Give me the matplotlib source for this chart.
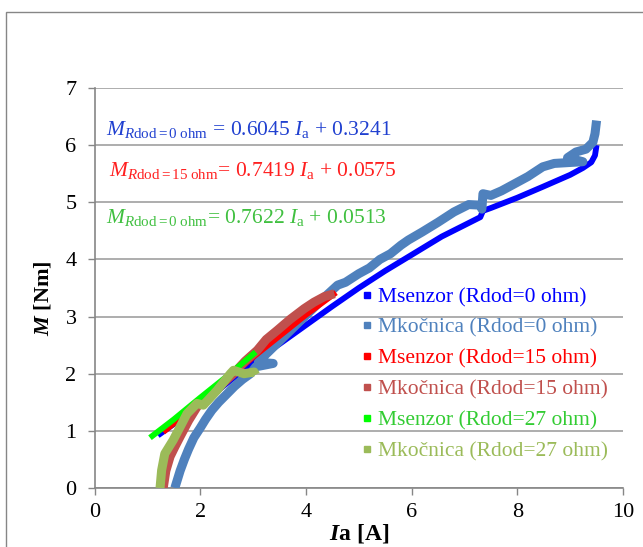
import matplotlib
matplotlib.use("Agg")
import matplotlib.pyplot as plt
from matplotlib.lines import Line2D
from matplotlib.patches import Rectangle

plt.rcParams['font.family'] = ['Liberation Serif', 'DejaVu Serif']
plt.rcParams['mathtext.fontset'] = 'custom'
plt.rcParams['mathtext.rm'] = 'Liberation Serif'
plt.rcParams['mathtext.it'] = 'Liberation Serif:italic'
plt.rcParams['mathtext.bf'] = 'Liberation Serif:bold'
plt.rcParams['mathtext.cal'] = 'Liberation Serif:italic:bold'

# ---- data ----
ms0_I = [1.2, 1.5, 2.0, 2.5, 3.0, 3.5, 4.0, 4.5, 5.0, 5.5, 6.0, 6.57, 7.0, 7.3, 7.35, 7.5, 8.0, 8.48, 9.0, 9.24, 9.4, 9.47, 9.5]
ms0_M = [0.92, 1.12, 1.45, 1.83, 2.2, 2.52, 2.85, 3.18, 3.5, 3.8, 4.08, 4.4, 4.6, 4.74, 4.85, 4.9, 5.08, 5.27, 5.48, 5.6, 5.7, 5.82, 6.0]

mk0_I = [1.52, 1.57, 1.62, 1.7, 1.78, 1.88, 2.0, 2.1, 2.22, 2.35, 2.5, 2.65, 2.8, 2.95, 3.05, 3.38, 3.1,
         3.2, 3.4, 3.6, 3.8, 4.0, 4.2, 4.4, 4.6, 4.75, 5.0, 5.2, 5.4, 5.6, 5.8, 5.94, 6.2, 6.5, 6.8, 7.08,
         7.3, 7.33, 7.35, 7.5, 7.7, 8.0, 8.2, 8.48, 8.7, 9.24, 8.95, 9.11, 9.3, 9.43, 9.47, 9.5]
mk0_M = [0.0, 0.15, 0.3, 0.5, 0.68, 0.88, 1.05, 1.2, 1.36, 1.5, 1.64, 1.78, 1.9, 2.0, 2.12, 2.18, 2.2,
         2.3, 2.48, 2.66, 2.84, 3.02, 3.2, 3.38, 3.55, 3.6, 3.75, 3.85, 4.0, 4.1, 4.25, 4.34, 4.48, 4.65, 4.83, 4.96,
         4.95, 4.88, 5.15, 5.12, 5.2, 5.35, 5.45, 5.62, 5.68, 5.71, 5.78, 5.88, 5.93, 6.05, 6.2, 6.43]

ms15_I = [1.3, 2.0, 2.5, 3.0, 3.5, 4.0, 4.57]
ms15_M = [0.98, 1.5, 1.9, 2.29, 2.66, 3.03, 3.42]

mk15_I = [1.3, 1.35, 1.43, 1.52, 1.62, 1.78, 1.94, 2.1, 2.25, 2.45, 2.63, 2.85, 3.08, 3.25, 3.46, 3.7, 3.97, 4.15, 4.35, 4.54]
mk15_M = [0.0, 0.3, 0.55, 0.72, 0.9, 1.18, 1.42, 1.56, 1.66, 1.85, 2.0, 2.22, 2.41, 2.6, 2.76, 2.95, 3.14, 3.25, 3.35, 3.4]

ms27_I = [1.05, 1.5, 2.0, 2.5, 3.05]
ms27_M = [0.88, 1.2, 1.58, 1.95, 2.38]

mk27_I = [1.24, 1.27, 1.33, 1.49, 1.62, 1.75, 1.94, 2.06, 2.32, 2.57, 2.63, 2.83, 3.02, 3.05]
mk27_M = [0.0, 0.31, 0.6, 0.84, 1.07, 1.3, 1.48, 1.45, 1.71, 2.0, 2.06, 2.0, 2.03, 1.98]

labels = ["Msenzor (Rdod=0 ohm)", "Mkočnica (Rdod=0 ohm)", "Msenzor (Rdod=15 ohm)",
          "Mkočnica (Rdod=15 ohm)", "Msenzor (Rdod=27 ohm)", "Mkočnica (Rdod=27 ohm)"]
colors = ["#0000FF", "#4F81BD", "#FF0000", "#C0504D", "#00FF00", "#9BBB59"]
text_colors = ["#0000FF", "#4F81BD", "#FF0000", "#C0504D", "#33CC33", "#9BBB59"]

eq_texts = [r"$M_{R\mathrm{dod=0\ ohm}}$ = 0.6045 $I_{\mathrm{a}}$ + 0.3241",
            r"$M_{R\mathrm{dod=15\ ohm}}$= 0.7419 $I_{\mathrm{a}}$ + 0.0575",
            r"$M_{R\mathrm{dod=0\ ohm}}$= 0.7622 $I_{\mathrm{a}}$ + 0.0513"]
eq_colors = ["#2040D0", "#FF2020", "#40C040"]
eq_pos = [(0.22, 6.28), (0.27, 5.56), (0.22, 4.74)]

xticks = [0, 2, 4, 6, 8, 10]
yticks = [0, 1, 2, 3, 4, 5, 6, 7]

# ---- figure ----
fig = plt.figure(figsize=(6.43, 5.47), dpi=100)
fig.patches.append(Rectangle((6/643, -0.1), 1.2, 1.1 - 12/547, transform=fig.transFigure,
                             fill=False, edgecolor="#868686", linewidth=1.0))
ax = fig.add_axes([94.5/643, 1 - 488/547, (623 - 94.5)/643, (488 - 88)/547])

series = [(ms0_I, ms0_M), (mk0_I, mk0_M), (ms15_I, ms15_M), (mk15_I, mk15_M), (ms27_I, ms27_M), (mk27_I, mk27_M)]
widths = [4.2, 6.5, 4.2, 6.5, 4.2, 6.5]
for (xs, ys), c, w in zip(series, colors, widths):
    ax.plot(xs, ys, color=c, lw=w, solid_joinstyle='round', solid_capstyle='butt', zorder=3)

ax.set_xlim(0, 10)
ax.set_ylim(0, 7)
ax.set_xticks(xticks)
ax.set_yticks(yticks)
ax.tick_params(axis='both', labelsize=16, color="#868686", length=5, width=1, direction='out')
ax.tick_params(axis='x', pad=6)
ax.tick_params(axis='y', pad=8)
ax.grid(axis='y', color="#A0A0A0", lw=1.2)
ax.set_axisbelow(True)
for s in ['top', 'right']:
    ax.spines[s].set_visible(False)
for s in ['left', 'bottom']:
    ax.spines[s].set_color("#868686")
    ax.spines[s].set_linewidth(1.2)

ax.set_xlabel(r"$\mathcal{I}$a [A]", fontsize=17, fontweight='bold', labelpad=0)
ax.set_ylabel(r"$\mathcal{M}$ [Nm]", fontsize=16, fontweight='bold')
ax.yaxis.set_label_coords(-0.077, 0.475)

for t, c, (x, y) in zip(eq_texts, eq_colors, eq_pos):
    ax.text(x, y, t, color=c, fontsize=15.5, va='center', ha='left')

handles = [Line2D([], [], marker='s', ls='none', color=c, markersize=4) for c in colors]
leg = ax.legend(handles, labels, loc='upper left', bbox_to_anchor=(0.49, 0.524), frameon=False,
                fontsize=15.5, handlelength=0.5, handletextpad=0.26, labelspacing=0.5, borderaxespad=0)
for txt, c in zip(leg.get_texts(), text_colors):
    txt.set_color(c)

fig.savefig("out.png", dpi=100)
